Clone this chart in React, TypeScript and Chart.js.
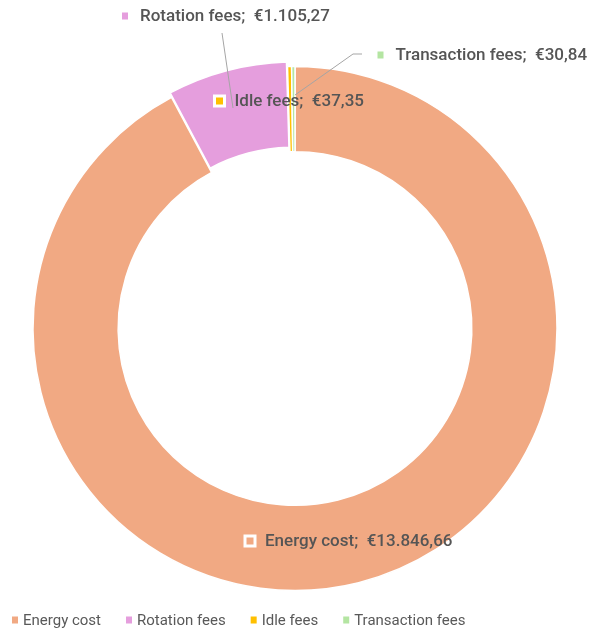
import { useEffect, useRef } from "react";
import { Chart, registerables } from "chart.js";

Chart.register(...registerables);

const categories = ["Energy cost", "Rotation fees", "Idle fees", "Transaction fees"];
const costs = [13846.66, 1105.27, 37.35, 30.84];
const colors = ["#F1A983", "#E59EDD", "#FFC000", "#B4E5A2"];
const explode = [0, 12, 0, 0];

// label placement relative to the pie centre (marker centre + optional leader line)
const labelLayout = [
  { dx: -45, dy: 212.5, framed: true, line: null as number[][] | null },
  { dx: -170, dy: -312.5, framed: false, line: [[-73, -295.5], [-62, -220.5]] },
  { dx: -75.5, dy: -227.5, framed: true, line: null as number[][] | null },
  { dx: 85.5, dy: -273.5, framed: false, line: [[67, -274.5], [58, -274.5], [0, -233.5]] },
];

const LEGEND_FONT = "15px Roboto";
const LABEL_FONT = "500 17px Roboto";
const TEXT = "#595959";

function euro(v: number): string {
  const [i, d] = v.toFixed(2).split(".");
  const withDots = i.replace(/\B(?=(\d{3})+(?!\d))/g, ".");
  return "€" + withDots + "," + d;
}

const labelPlugin = {
  id: "excelLabels",
  afterDraw(chart: any) {
    const ctx = chart.ctx;
    const meta = chart.getDatasetMeta(0);
    const base = meta.data[0];
    const cx = base.x;
    const cy = base.y;
    ctx.save();
    ctx.font = LABEL_FONT;
    ctx.textBaseline = "middle";
    ctx.textAlign = "left";
    labelLayout.forEach((l) => {
      if (l.line) {
        ctx.beginPath();
        ctx.strokeStyle = "#A5A5A5";
        ctx.lineWidth = 1;
        l.line.forEach((p, k) => {
          if (k === 0) ctx.moveTo(cx + p[0], cy + p[1]);
          else ctx.lineTo(cx + p[0], cy + p[1]);
        });
        ctx.stroke();
      }
    });
    labelLayout.forEach((l, i) => {
      const mx = cx + l.dx;
      const my = cy + l.dy;
      if (l.framed) {
        ctx.fillStyle = "#FFFFFF";
        ctx.fillRect(mx - 6.5, my - 6.5, 13, 13);
        ctx.fillStyle = colors[i];
        ctx.fillRect(mx - 3.5, my - 3.5, 7, 7);
      } else {
        ctx.fillStyle = colors[i];
        ctx.fillRect(mx - 3, my - 3.5, 6, 7);
      }
      ctx.fillStyle = "#555555";
      ctx.fillText(categories[i] + ";  " + euro(costs[i]), mx + 15, my + 1);
    });
    ctx.restore();
  },
};

const legendPlugin = {
  id: "excelLegend",
  afterDraw(chart: any) {
    const ctx = chart.ctx;
    ctx.save();
    ctx.font = LEGEND_FONT;
    ctx.textBaseline = "middle";
    ctx.textAlign = "left";
    let x = 12;
    const y = 620;
    categories.forEach((c, i) => {
      ctx.fillStyle = colors[i];
      ctx.fillRect(x, y - 3.5, 6, 7);
      ctx.fillStyle = TEXT;
      ctx.fillText(c, x + 11, y + 1);
      x += 11 + ctx.measureText(c).width + 25;
    });
    ctx.restore();
  },
};

export default function App() {
  const ref = useRef<HTMLCanvasElement | null>(null);
  useEffect(() => {
    if (!ref.current) return;
    const chart = new Chart(ref.current, {
      type: "doughnut",
      data: {
        labels: categories,
        datasets: [
          {
            data: costs,
            backgroundColor: colors,
            borderColor: "#FFFFFF",
            borderWidth: 1.5,
            offset: explode,
          },
        ],
      },
      options: {
        animation: false,
        responsive: true,
        maintainAspectRatio: false,
        radius: 262,
        cutout: "67.5%",
        layout: { padding: { top: 27, bottom: 0, left: 0, right: 2 } },
        plugins: {
          legend: { display: false },
          tooltip: { enabled: false },
        },
      },
      plugins: [labelPlugin, legendPlugin],
    });
    return () => chart.destroy();
  }, []);
  return (
    <div style={{ position: "absolute", left: 0, top: 0, width: 592, height: 630, background: "#FFFFFF" }}>
      <canvas ref={ref} />
    </div>
  );
}
